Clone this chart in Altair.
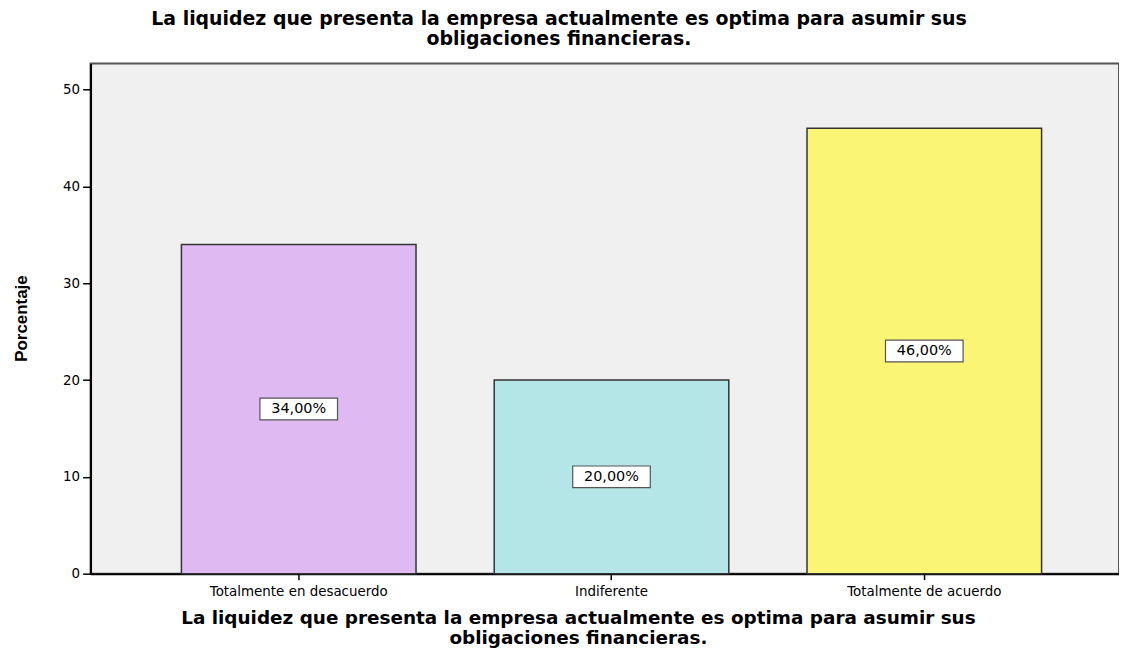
import altair as alt
import pandas as pd

categories = ["Totalmente en desacuerdo", "Indiferente", "Totalmente de acuerdo"]
values = [34.0, 20.0, 46.0]
colors = ["#DFB9F2", "#B4E6E8", "#FAF574"]
y_ticks = [0, 10, 20, 30, 40, 50]
title_lines = ["La liquidez que presenta la empresa actualmente es optima para asumir sus",
               "obligaciones financieras."]

labels = [f"{v:.2f}".replace(".", ",") + "%" for v in values]
df = pd.DataFrame({"cat": categories, "val": values, "half": [v / 2 for v in values],
                   "lab": labels, "col": colors})

FONT = "DejaVu Sans"
FONT_T = "Liberation Sans"

x_enc = alt.X("cat:N", sort=categories,
              scale=alt.Scale(paddingInner=0.25, paddingOuter=0.269, align=0.54),
              axis=alt.Axis(title=title_lines, labelAngle=0, labelFontSize=13.5, labelFont=FONT,
                            labelColor="#000", tickSize=6, tickColor="#000", tickWidth=1.5,
                            domainColor="#000", domainWidth=2, labelPadding=5,
                            titleFont=FONT, titleFontSize=18.5, titleFontWeight="bold",
                            titleColor="#000", titlePadding=11, titleLineHeight=19.5,
                            titleX=490, titleAnchor="middle"))

bars = alt.Chart(df).mark_bar(stroke="#333333", strokeWidth=1.5).encode(
    x=x_enc,
    y=alt.Y("val:Q", scale=alt.Scale(domain=[0, 52.7], nice=False),
            axis=alt.Axis(title="Porcentaje", values=y_ticks, grid=False, labelFontSize=13.5,
                          labelFont=FONT, labelColor="#000", tickSize=8, tickColor="#000",
                          tickWidth=1.5, domainColor="#000", domainWidth=2, labelPadding=3,
                          titleFont=FONT_T, titleFontSize=17, titleFontWeight="bold",
                          titleColor="#000", titleX=-60, titleY=256)),
    color=alt.Color("col:N", scale=None),
)

boxes = alt.Chart(df).mark_point(
    shape="M-1,-0.28L1,-0.28L1,0.28L-1,0.28Z", size=6084, filled=True,
    fill="white", stroke="#555555", strokeWidth=1.2, opacity=1
).encode(x=alt.X("cat:N", sort=categories), y=alt.Y("half:Q"))

texts = alt.Chart(df).mark_text(font=FONT, fontSize=14.5, color="#000").encode(
    x=alt.X("cat:N", sort=categories), y=alt.Y("half:Q"), text="lab:N")

chart = alt.layer(bars, boxes, texts).properties(
    width=1034, height=513, background="white",
    title=alt.TitleParams(title_lines, font=FONT, fontSize=19, fontWeight="bold",
                          color="#000", anchor="middle", dx=-46, offset=15, lineHeight=20),
    autosize=alt.AutoSizeParams(type="none"),
    padding={"left": 83, "top": 54, "right": 0, "bottom": 73},
).configure_view(fill="#F0F0F0", stroke="#555555", strokeWidth=2)

chart.save("out.html", embed_options={"renderer": "svg", "actions": False})
